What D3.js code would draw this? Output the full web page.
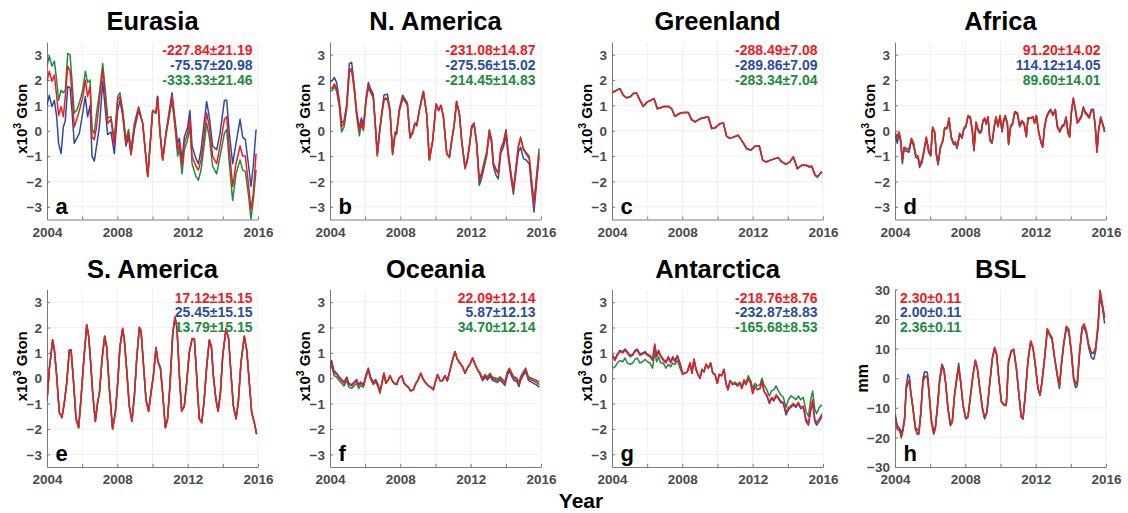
<!DOCTYPE html>
<html>
<head>
<meta charset="utf-8">
<script src="https://cdn.jsdelivr.net/npm/d3@7"></script>
<style>
  body { margin: 0; background: #fff; }
  svg { font-family: "Liberation Sans", Arial, Helvetica, sans-serif; }
</style>
</head>
<body>
<svg id="chart" width="1128" height="513"></svg>
<script>
// ---- data (x10^3 Gton, BSL in mm) ----
var eurasiaYear = [2004.00,2004.13,2004.28,2004.42,2004.55,2004.66,2004.80,2004.93,2005.04,2005.18,
  2005.31,2005.42,2005.55,2005.69,2005.84,2006.03,2006.18,2006.31,2006.45,2006.56,
  2006.69,2006.82,2006.98,2007.17,2007.32,2007.45,2007.64,2007.83,2008.02,2008.15,
  2008.30,2008.49,2008.64,2008.78,2008.97,2009.21,2009.44,2009.73,2010.01,2010.20,
  2010.29,2010.43,2010.58,2010.77,2011.11,2011.30,2011.43,2011.53,2011.68,2011.81,
  2012.00,2012.13,2012.25,2012.47,2012.61,2012.76,2012.95,2013.08,2013.23,2013.42,
  2013.65,2013.84,2014.09,2014.22,2014.37,2014.56,2014.75,2014.98,2015.13,2015.28,
  2015.47,2015.60,2015.73,2015.89];
var eurasiaRed = [1.95,2.35,1.95,2.2,1.35,0.6,0.95,0.55,1.35,2.55,
  2.35,1.5,0.15,0.45,0.8,1.3,2.0,1.35,1.75,-0.25,
  -0.35,0.15,1.2,2.4,1.35,0.3,0.45,-0.6,1.2,1.35,
  0.8,-0.5,-0.1,-0.9,0.15,0.9,0.3,-1.8,0.8,0.7,
  1.35,-0.1,-1.15,-0.1,1.35,0.15,-0.75,-0.5,-1.4,-0.5,
  -0.1,0.45,-1.0,-1.4,-1.55,-1.15,-0.1,0.7,0.15,-1.0,
  -1.3,-0.6,0.45,0.55,-0.75,-2.2,-1.3,-0.6,-1.0,-1.0,
  -2.2,-3.1,-2.5,-0.9];
var eurasiaBlue = [1.0,1.4,0.95,1.2,0.55,-0.5,-0.9,0.15,0.4,1.75,
  1.7,0.8,-0.5,-0.3,-0.1,0.7,1.35,0.55,1.0,-1.0,
  -1.2,-0.6,0.15,1.95,0.8,-0.15,-0.05,-0.9,0.8,1.2,
  0.6,-0.6,-0.25,-0.95,0.05,0.8,0.3,-1.8,0.8,0.7,
  1.35,-0.1,-1.15,-0.05,1.5,0.3,-0.5,-0.3,-1.15,-0.25,
  0.15,0.8,-0.6,-1.1,-1.3,-0.75,0.4,1.15,0.55,-0.6,
  -0.75,-0.1,1.2,1.2,-0.1,-1.3,-0.5,0.45,-0.25,-0.35,
  -1.4,-2.2,-1.4,0.05];
var eurasiaGreen = [2.55,2.95,2.55,2.75,2.0,1.2,1.6,1.5,1.6,3.05,
  3.0,2.0,0.7,0.8,1.1,1.6,2.35,1.9,2.0,0.05,
  -0.1,0.7,1.5,2.65,1.55,0.5,0.55,-0.35,1.35,1.5,
  0.8,-0.35,0.05,-0.75,0.3,0.95,0.3,-1.8,0.8,0.7,
  1.35,-0.1,-1.15,-0.15,1.2,0.0,-1.0,-0.7,-1.7,-0.75,
  -0.35,0.15,-1.3,-1.8,-1.95,-1.55,-0.5,0.3,-0.25,-1.4,
  -1.7,-1.0,-0.1,0.05,-1.3,-2.75,-1.7,-1.15,-1.55,-1.6,
  -2.6,-3.5,-2.75,-1.55];

var namericaYear = [2004.00,2004.15,2004.25,2004.38,2004.53,2004.66,2004.80,2004.95,2005.10,2005.23,
  2005.37,2005.52,2005.67,2005.78,2005.90,2006.05,2006.18,2006.31,2006.46,2006.56,
  2006.69,2006.81,2006.94,2007.07,2007.26,2007.41,2007.56,2007.70,2007.79,2007.94,
  2008.13,2008.27,2008.40,2008.55,2008.70,2008.83,2008.93,2009.08,2009.31,2009.50,
  2009.65,2009.84,2010.03,2010.18,2010.31,2010.45,2010.64,2010.79,2010.92,2011.05,
  2011.20,2011.36,2011.49,2011.68,2011.81,2011.92,2012.06,2012.19,2012.34,2012.49,
  2012.63,2012.76,2012.91,2013.06,2013.19,2013.29,2013.44,2013.57,2013.71,2013.86,
  2014.01,2014.14,2014.29,2014.43,2014.58,2014.71,2014.84,2015.00,2015.15,2015.33,
  2015.60,2015.89];
var namericaRed = [1.65,1.7,1.85,1.65,1.05,0.15,0.3,0.95,2.4,2.45,
  1.7,0.65,0.0,0.35,0.1,1.2,1.8,1.55,1.35,0.4,
  -0.95,-0.1,0.65,1.25,1.3,0.8,-0.9,-0.1,-0.1,0.8,
  1.3,1.2,1.05,-0.25,-0.1,0.3,0.2,0.8,1.55,0.65,
  -1.15,-0.4,1.05,0.8,1.0,0.55,-0.9,-1.05,-0.4,0.15,
  1.15,0.65,-0.4,-1.45,-1.15,-0.65,0.15,0.3,-0.5,-1.95,
  -1.7,-1.3,-0.9,0.0,-0.4,-1.3,-1.55,-1.7,-0.75,-0.5,
  0.0,-0.9,-1.7,-2.35,-1.45,-0.65,-0.3,-0.75,-0.9,-1.1,
  -2.95,-0.85];
var namericaBlue = [1.9,2.0,2.1,1.9,1.2,0.3,0.4,1.05,2.65,2.7,
  1.85,0.75,0.1,0.5,0.2,1.3,1.9,1.65,1.45,0.45,
  -0.9,-0.05,0.7,1.4,1.45,0.85,-0.85,-0.05,-0.05,0.85,
  1.4,1.25,1.1,-0.2,-0.05,0.3,0.2,0.8,1.55,0.65,
  -1.15,-0.4,1.05,0.8,1.0,0.55,-0.9,-1.05,-0.4,0.15,
  1.15,0.65,-0.4,-1.5,-1.2,-0.7,0.1,0.25,-0.55,-2.15,
  -1.85,-1.45,-1.0,-0.1,-0.5,-1.4,-1.75,-1.9,-0.9,-0.65,
  -0.2,-1.05,-1.85,-2.5,-1.6,-0.85,-0.65,-1.1,-1.15,-1.3,
  -3.2,-1.0];
var namericaGreen = [1.55,1.6,1.75,1.55,0.95,-0.05,0.15,0.85,2.3,2.4,
  1.65,0.55,-0.2,0.25,0.0,1.15,1.7,1.5,1.3,0.35,
  -1.0,-0.15,0.6,1.2,1.25,0.75,-0.95,-0.15,-0.15,0.75,
  1.25,1.15,1.0,-0.3,-0.1,0.3,0.2,0.8,1.55,0.65,
  -1.15,-0.4,1.05,0.8,1.0,0.55,-0.9,-1.05,-0.4,0.15,
  1.15,0.65,-0.4,-1.4,-1.1,-0.6,0.2,0.3,-0.45,-1.9,
  -1.65,-1.25,-0.85,0.05,-0.35,-1.25,-1.5,-1.65,-0.7,-0.45,
  0.05,-0.85,-1.65,-2.3,-1.4,-0.6,-0.25,-0.7,-0.85,-1.0,
  -2.85,-0.7];

var greenlandYear = [2004.00,2004.27,2004.45,2004.64,2004.83,2005.02,2005.21,2005.40,2005.59,2005.78,
  2006.01,2006.20,2006.39,2006.58,2006.73,2006.96,2007.20,2007.39,2007.58,2007.83,
  2008.09,2008.34,2008.53,2008.72,2009.00,2009.29,2009.48,2009.67,2009.86,2010.14,
  2010.33,2010.52,2010.71,2010.94,2011.18,2011.43,2011.66,2011.89,2012.13,2012.38,
  2012.57,2012.76,2013.02,2013.27,2013.46,2013.65,2013.90,2014.12,2014.31,2014.54,
  2014.79,2015.03,2015.22,2015.36,2015.55,2015.68,2015.83,2015.94];
var greenlandRed = [1.5,1.6,1.66,1.4,1.3,1.33,1.47,1.49,1.2,0.96,
  1.14,1.2,1.27,0.87,0.9,0.96,0.96,0.87,0.57,0.68,
  0.72,0.72,0.44,0.35,0.47,0.52,0.54,0.09,0.11,0.28,
  0.31,-0.22,-0.3,-0.24,-0.18,-0.44,-0.7,-0.77,-0.61,-0.6,
  -1.16,-1.23,-1.16,-1.1,-1.06,-1.23,-1.32,-1.23,-1.03,-1.49,
  -1.36,-1.36,-1.42,-1.4,-1.75,-1.82,-1.69,-1.62];
var greenlandBlue = [1.5,1.6,1.66,1.4,1.3,1.33,1.47,1.49,1.2,0.96,
  1.14,1.2,1.27,0.87,0.9,0.96,0.96,0.87,0.57,0.68,
  0.72,0.72,0.44,0.35,0.47,0.52,0.54,0.09,0.11,0.28,
  0.31,-0.22,-0.3,-0.24,-0.18,-0.44,-0.7,-0.77,-0.61,-0.6,
  -1.16,-1.23,-1.16,-1.1,-1.06,-1.23,-1.32,-1.23,-1.03,-1.5,
  -1.37,-1.37,-1.43,-1.41,-1.76,-1.83,-1.7,-1.63];
var greenlandGreen = [1.5,1.6,1.66,1.4,1.3,1.33,1.47,1.49,1.2,0.96,
  1.14,1.2,1.27,0.87,0.9,0.96,0.96,0.87,0.57,0.68,
  0.72,0.72,0.44,0.35,0.47,0.52,0.54,0.09,0.11,0.28,
  0.31,-0.22,-0.3,-0.24,-0.18,-0.44,-0.7,-0.77,-0.61,-0.6,
  -1.16,-1.23,-1.16,-1.1,-1.06,-1.23,-1.32,-1.23,-1.03,-1.48,
  -1.35,-1.35,-1.41,-1.39,-1.74,-1.81,-1.68,-1.61];

var africaYear = [2004.02,2004.13,2004.23,2004.32,2004.42,2004.51,2004.64,2004.80,2004.93,2005.06,
  2005.18,2005.31,2005.40,2005.54,2005.65,2005.78,2005.91,2006.03,2006.14,2006.26,
  2006.35,2006.45,2006.58,2006.73,2006.82,2006.98,2007.07,2007.20,2007.34,2007.43,
  2007.53,2007.68,2007.81,2007.92,2008.04,2008.15,2008.28,2008.40,2008.49,2008.61,
  2008.68,2008.80,2008.91,2009.00,2009.10,2009.19,2009.29,2009.40,2009.52,2009.63,
  2009.74,2009.86,2009.97,2010.09,2010.18,2010.27,2010.39,2010.46,2010.58,2010.69,
  2010.81,2010.96,2011.09,2011.22,2011.34,2011.47,2011.56,2011.72,2011.85,2011.94,
  2012.04,2012.17,2012.32,2012.40,2012.51,2012.63,2012.74,2012.85,2012.99,2013.12,
  2013.23,2013.37,2013.50,2013.61,2013.73,2013.84,2013.93,2014.03,2014.14,2014.26,
  2014.37,2014.48,2014.60,2014.71,2014.82,2014.94,2015.05,2015.17,2015.28,2015.39,
  2015.49,2015.58,2015.70,2015.83,2015.92];
var africaRed = [-0.1,-0.25,-0.05,-0.35,-1.15,-0.65,-0.7,-0.75,-0.3,-0.5,
  -0.95,-1.0,-1.35,-1.15,-0.75,-0.25,-0.75,-0.95,0.15,-0.05,
  -0.9,-1.3,-0.65,-0.35,0.1,0.15,0.5,-0.25,-0.5,-0.45,
  -0.65,-0.1,-0.25,0.1,0.2,0.6,0.55,0.0,-0.75,0.35,
  0.15,-0.05,0.0,0.4,0.5,0.3,0.55,-0.35,-0.45,0.1,
  0.55,0.2,0.6,0.0,0.4,0.6,0.3,-0.5,0.2,0.3,
  0.75,0.7,0.2,0.4,0.3,-0.2,0.5,0.5,0.55,0.3,
  0.6,-0.05,-0.5,-0.65,0.15,0.55,0.7,0.8,0.6,0.8,
  0.15,-0.05,0.15,0.2,0.5,-0.1,-0.25,0.7,1.25,0.8,
  0.3,0.4,0.55,0.9,0.7,0.6,0.5,0.8,0.8,0.15,
  -0.85,0.0,0.5,0.2,-0.05];
var africaBlue = [-0.15,-0.5,-0.1,-0.45,-1.3,-0.75,-0.8,-0.85,-0.4,-0.6,
  -1.05,-1.1,-1.45,-1.25,-0.85,-0.3,-0.85,-1.0,0.1,-0.1,
  -0.95,-1.35,-0.7,-0.4,0.05,0.1,0.45,-0.3,-0.55,-0.5,
  -0.7,-0.15,-0.3,0.05,0.15,0.55,0.5,-0.05,-0.8,0.3,
  0.1,-0.1,-0.05,0.35,0.45,0.25,0.5,-0.4,-0.5,0.05,
  0.5,0.15,0.55,-0.05,0.35,0.55,0.25,-0.55,0.15,0.25,
  0.7,0.65,0.15,0.35,0.25,-0.25,0.45,0.5,0.55,0.3,
  0.6,-0.05,-0.5,-0.6,0.2,0.6,0.75,0.85,0.65,0.85,
  0.2,0.0,0.2,0.25,0.55,-0.05,-0.2,0.75,1.3,0.85,
  0.35,0.45,0.6,0.95,0.75,0.65,0.55,0.85,0.85,0.2,
  -0.8,0.05,0.55,0.25,0.05];
var africaGreen = [-0.1,-0.27,-0.06,-0.36,-1.16,-0.66,-0.71,-0.76,-0.31,-0.51,
  -0.96,-1.01,-1.36,-1.16,-0.76,-0.26,-0.76,-0.96,0.14,-0.06,
  -0.9,-1.3,-0.65,-0.35,0.1,0.15,0.5,-0.25,-0.5,-0.45,
  -0.65,-0.1,-0.25,0.1,0.2,0.6,0.55,0.0,-0.75,0.35,
  0.15,-0.05,0.0,0.4,0.5,0.3,0.55,-0.35,-0.45,0.1,
  0.55,0.2,0.6,0.0,0.4,0.6,0.3,-0.5,0.2,0.3,
  0.75,0.7,0.2,0.4,0.3,-0.2,0.5,0.5,0.55,0.3,
  0.6,-0.05,-0.5,-0.65,0.15,0.55,0.7,0.8,0.6,0.8,
  0.15,-0.05,0.15,0.2,0.5,-0.1,-0.25,0.7,1.25,0.8,
  0.3,0.4,0.55,0.9,0.7,0.6,0.5,0.8,0.8,0.15,
  -0.85,0.0,0.5,0.2,-0.05];

var samericaYear = [2004.00,2004.13,2004.32,2004.42,2004.55,2004.70,2004.85,2004.99,2005.12,2005.27,
  2005.37,2005.50,2005.65,2005.80,2005.93,2006.09,2006.26,2006.37,2006.46,2006.60,
  2006.75,2006.88,2006.98,2007.13,2007.28,2007.39,2007.55,2007.73,2007.89,2008.02,
  2008.15,2008.30,2008.40,2008.53,2008.68,2008.83,2008.97,2009.10,2009.25,2009.35,
  2009.48,2009.63,2009.78,2009.91,2010.05,2010.20,2010.31,2010.45,2010.58,2010.73,
  2010.86,2011.00,2011.15,2011.28,2011.39,2011.53,2011.66,2011.81,2011.94,2012.09,
  2012.25,2012.38,2012.51,2012.66,2012.80,2012.93,2013.08,2013.23,2013.35,2013.46,
  2013.61,2013.73,2013.86,2013.99,2014.18,2014.33,2014.46,2014.60,2014.75,2014.88,
  2015.03,2015.22,2015.36,2015.51,2015.64,2015.79,2015.92];
var samericaRed = [-0.9,0.35,1.5,1.1,0.1,-1.35,-1.55,-0.95,-0.2,1.1,
  1.1,-0.05,-1.6,-1.95,-0.85,0.7,2.1,1.65,0.85,-0.6,
  -1.7,-0.95,-0.6,0.75,1.65,1.25,-0.45,-2.0,-1.35,-0.2,
  1.25,1.95,1.5,0.35,-1.1,-1.7,-0.7,0.75,2.0,1.85,
  0.6,-0.85,-1.3,-0.6,0.1,1.2,0.65,0.4,-0.6,-1.95,
  -1.6,-0.2,1.75,2.4,2.0,0.1,-1.3,-1.1,-0.2,1.0,
  1.55,1.55,0.1,-1.6,-1.75,-0.95,0.45,1.5,1.25,0.1,
  -0.85,-1.3,-0.6,0.85,1.95,1.55,0.2,-1.1,-1.6,-0.95,
  0.6,1.65,1.1,-0.2,-1.35,-1.75,-2.2];
var samericaBlue = [-0.88,0.37,1.52,1.12,0.12,-1.33,-1.53,-0.93,-0.18,1.12,
  1.12,-0.03,-1.58,-1.93,-0.83,0.72,2.12,1.67,0.87,-0.58,
  -1.68,-0.93,-0.58,0.77,1.67,1.27,-0.43,-1.98,-1.33,-0.18,
  1.27,1.97,1.52,0.37,-1.08,-1.68,-0.68,0.77,2.02,1.87,
  0.62,-0.83,-1.28,-0.58,0.12,1.22,0.67,0.42,-0.58,-1.93,
  -1.58,-0.18,1.77,2.42,2.02,0.12,-1.28,-1.08,-0.18,1.02,
  1.57,1.57,0.12,-1.58,-1.73,-0.93,0.47,1.52,1.27,0.12,
  -0.83,-1.28,-0.58,0.87,1.97,1.57,0.22,-1.08,-1.58,-0.93,
  0.62,1.67,1.12,-0.18,-1.33,-1.73,-2.18];
var samericaGreen = [-0.91,0.34,1.49,1.09,0.09,-1.36,-1.56,-0.96,-0.21,1.09,
  1.09,-0.06,-1.61,-1.96,-0.86,0.69,2.09,1.64,0.84,-0.61,
  -1.71,-0.96,-0.61,0.74,1.64,1.24,-0.46,-2.01,-1.36,-0.21,
  1.24,1.94,1.49,0.34,-1.11,-1.71,-0.71,0.74,1.99,1.84,
  0.59,-0.86,-1.31,-0.61,0.09,1.19,0.64,0.39,-0.61,-1.96,
  -1.61,-0.21,1.74,2.39,1.99,0.09,-1.31,-1.11,-0.21,0.99,
  1.54,1.54,0.09,-1.61,-1.76,-0.96,0.44,1.49,1.24,0.09,
  -0.86,-1.31,-0.61,0.84,1.94,1.54,0.19,-1.11,-1.61,-0.96,
  0.59,1.64,1.09,-0.21,-1.36,-1.76,-2.21];

var oceaniaYear = [2004.00,2004.09,2004.23,2004.38,2004.53,2004.66,2004.80,2004.95,2005.08,2005.23,
  2005.37,2005.52,2005.63,2005.74,2005.90,2006.05,2006.18,2006.31,2006.46,2006.60,
  2006.71,2006.84,2006.94,2007.07,2007.18,2007.32,2007.41,2007.51,2007.64,2007.79,
  2007.92,2008.08,2008.21,2008.36,2008.45,2008.59,2008.74,2008.89,2009.02,2009.16,
  2009.31,2009.46,2009.59,2009.73,2009.88,2010.01,2010.12,2010.26,2010.39,2010.54,
  2010.67,2010.82,2010.98,2011.11,2011.24,2011.39,2011.54,2011.68,2011.81,2011.96,
  2012.11,2012.25,2012.38,2012.53,2012.68,2012.82,2012.95,2013.10,2013.23,2013.38,
  2013.52,2013.67,2013.80,2013.95,2014.09,2014.20,2014.33,2014.46,2014.62,2014.75,
  2014.84,2015.00,2015.13,2015.28,2015.41,2015.56,2015.72,2015.91];
var oceaniaRed = [0.45,0.6,0.2,0.15,0.0,-0.1,-0.2,0.0,-0.25,-0.3,
  -0.2,-0.1,-0.3,-0.2,-0.3,0.1,0.35,0.0,-0.2,-0.1,
  -0.25,-0.55,-0.25,0.2,-0.2,-0.05,0.1,-0.05,-0.2,-0.25,
  0.0,0.1,-0.2,-0.3,-0.35,-0.5,-0.45,-0.2,-0.05,0.2,
  -0.05,-0.2,-0.3,-0.35,-0.45,-0.1,0.15,-0.1,-0.1,0.1,
  -0.1,0.3,0.75,1.05,0.75,0.6,0.45,0.2,0.4,0.55,
  0.8,0.55,0.35,0.2,-0.05,0.1,0.0,0.15,0.0,-0.05,
  -0.1,0.0,-0.1,-0.2,0.2,0.35,0.15,0.0,-0.05,-0.25,
  0.0,0.2,0.35,0.0,-0.05,-0.1,-0.15,-0.25];
var oceaniaBlue = [0.55,0.7,0.3,0.2,0.05,-0.05,-0.15,0.05,-0.2,-0.25,
  -0.15,-0.05,-0.25,-0.15,-0.25,0.15,0.4,0.05,-0.15,-0.05,
  -0.2,-0.5,-0.2,0.2,-0.2,-0.05,0.1,-0.05,-0.2,-0.25,
  0.0,0.1,-0.2,-0.3,-0.35,-0.5,-0.45,-0.2,-0.05,0.2,
  -0.05,-0.2,-0.3,-0.35,-0.45,-0.1,0.15,-0.1,-0.1,0.1,
  -0.1,0.3,0.75,1.05,0.75,0.6,0.45,0.2,0.4,0.55,
  0.8,0.55,0.35,0.15,-0.1,0.05,-0.07,0.08,-0.07,-0.12,
  -0.17,-0.07,-0.17,-0.28,0.13,0.28,0.08,-0.08,-0.13,-0.33,
  -0.08,0.12,0.27,-0.08,-0.13,-0.19,-0.25,-0.35];
var oceaniaGreen = [0.35,0.5,0.1,0.05,-0.1,-0.2,-0.3,-0.1,-0.35,-0.4,
  -0.3,-0.2,-0.4,-0.3,-0.35,0.05,0.3,-0.05,-0.25,-0.15,
  -0.3,-0.6,-0.25,0.2,-0.2,-0.05,0.1,-0.05,-0.2,-0.25,
  0.0,0.1,-0.2,-0.3,-0.35,-0.5,-0.45,-0.2,-0.05,0.2,
  -0.05,-0.2,-0.3,-0.35,-0.45,-0.1,0.15,-0.1,-0.1,0.1,
  -0.1,0.3,0.75,1.05,0.75,0.6,0.45,0.2,0.4,0.55,
  0.8,0.55,0.35,0.22,0.0,0.15,0.05,0.2,0.05,0.02,
  -0.03,0.06,-0.03,-0.13,0.26,0.4,0.21,0.06,0.02,-0.18,
  0.06,0.26,0.4,0.06,0.02,-0.03,-0.07,-0.15];

var antarcticaYear = [2004.04,2004.17,2004.30,2004.45,2004.61,2004.74,2004.87,2005.02,2005.18,2005.31,
  2005.44,2005.59,2005.74,2005.88,2006.01,2006.16,2006.31,2006.43,2006.54,2006.65,
  2006.77,2006.92,2007.07,2007.20,2007.34,2007.45,2007.58,2007.72,2007.87,2008.02,
  2008.15,2008.28,2008.44,2008.55,2008.66,2008.78,2008.89,2009.00,2009.12,2009.23,
  2009.35,2009.48,2009.61,2009.73,2009.86,2009.99,2010.10,2010.24,2010.37,2010.48,
  2010.60,2010.71,2010.86,2011.00,2011.13,2011.28,2011.39,2011.51,2011.62,2011.75,
  2011.89,2012.00,2012.13,2012.27,2012.42,2012.53,2012.64,2012.80,2012.95,2013.08,
  2013.21,2013.33,2013.46,2013.59,2013.74,2013.90,2014.03,2014.16,2014.31,2014.46,
  2014.60,2014.73,2014.88,2015.03,2015.17,2015.30,2015.41,2015.53,2015.64,2015.79,
  2015.94];
var antarcticaRed = [0.85,0.7,0.9,1.05,1.0,1.1,1.0,0.85,0.9,1.05,
  1.1,0.9,0.95,1.0,0.9,0.85,0.7,1.3,0.85,1.05,
  0.85,0.7,0.6,0.8,0.6,0.8,0.65,0.85,0.55,0.15,
  0.2,0.25,0.6,0.2,0.75,0.35,0.15,0.0,0.35,0.25,
  0.55,0.4,0.6,0.2,0.15,-0.2,0.15,0.1,0.35,-0.2,
  -0.45,-0.1,-0.25,-0.2,-0.3,-0.2,-0.4,-0.1,-0.25,0.0,
  -0.2,-0.6,-0.3,-0.45,-0.4,-0.1,-0.5,-0.65,-0.95,-0.75,
  -0.85,-0.65,-0.75,-0.9,-0.95,-1.35,-1.15,-1.1,-1.0,-1.1,
  -0.95,-1.15,-1.1,-1.6,-1.8,-1.2,-0.85,-1.6,-1.75,-1.6,
  -1.4];
var antarcticaBlue = [0.9,0.75,0.95,1.1,1.05,1.15,1.05,0.9,0.95,1.1,
  1.15,0.95,1.0,1.05,0.95,0.9,0.75,1.35,0.9,1.1,
  0.9,0.75,0.65,0.85,0.65,0.85,0.7,0.9,0.6,0.2,
  0.2,0.25,0.6,0.2,0.75,0.35,0.15,0.0,0.35,0.25,
  0.55,0.4,0.6,0.2,0.15,-0.2,0.15,0.1,0.35,-0.2,
  -0.45,-0.1,-0.25,-0.2,-0.3,-0.2,-0.4,-0.1,-0.25,0.0,
  -0.2,-0.6,-0.3,-0.45,-0.4,-0.1,-0.5,-0.7,-1.0,-0.8,
  -0.9,-0.7,-0.8,-0.95,-1.0,-1.45,-1.25,-1.15,-1.05,-1.15,
  -1.0,-1.2,-1.15,-1.7,-1.85,-1.3,-0.95,-1.7,-1.85,-1.7,
  -1.5];
var antarcticaGreen = [0.4,0.45,0.6,0.7,0.65,0.8,0.6,0.55,0.6,0.75,
  0.8,0.6,0.65,0.75,0.65,0.6,0.4,1.05,0.65,0.85,
  0.6,0.6,0.4,0.55,0.45,0.6,0.55,0.7,0.4,0.15,
  0.2,0.25,0.6,0.2,0.75,0.35,0.15,0.0,0.35,0.25,
  0.55,0.4,0.6,0.2,0.15,-0.2,0.15,0.1,0.35,-0.2,
  -0.45,-0.1,-0.2,-0.15,-0.25,-0.15,-0.35,-0.05,-0.2,0.1,
  -0.1,-0.4,-0.2,-0.3,-0.25,0.0,-0.25,-0.45,-0.7,-0.5,
  -0.45,-0.3,-0.5,-0.65,-0.75,-1.15,-0.85,-0.7,-0.75,-0.85,
  -0.7,-0.85,-0.75,-1.3,-1.5,-0.85,-0.5,-1.2,-1.4,-1.15,
  -1.05];

var bslYear = [2004.02,2004.13,2004.27,2004.36,2004.45,2004.55,2004.64,2004.74,2004.82,2004.89,
  2005.02,2005.16,2005.27,2005.36,2005.46,2005.59,2005.69,2005.84,2005.91,2006.07,
  2006.20,2006.29,2006.41,2006.54,2006.67,2006.79,2006.88,2007.01,2007.15,2007.26,
  2007.39,2007.55,2007.62,2007.73,2007.87,2008.02,2008.15,2008.30,2008.44,2008.57,
  2008.68,2008.82,2008.97,2009.10,2009.23,2009.38,2009.54,2009.67,2009.78,2009.90,
  2010.05,2010.20,2010.33,2010.46,2010.62,2010.75,2010.90,2011.03,2011.18,2011.28,
  2011.41,2011.56,2011.72,2011.85,2011.98,2012.13,2012.25,2012.36,2012.51,2012.66,
  2012.80,2012.93,2013.08,2013.23,2013.35,2013.46,2013.59,2013.74,2013.88,2014.03,
  2014.16,2014.27,2014.37,2014.50,2014.64,2014.75,2014.88,2015.01,2015.17,2015.30,
  2015.41,2015.55,2015.66,2015.79,2015.92];
var bslRed = [-13.5,-17,-17.5,-19.8,-17.5,-13.5,-3.2,-1.5,-0.4,-4.4,
  -10,-17,-18.6,-18.6,-12.4,-1.0,0.7,0.7,-3.2,-14.6,
  -18.6,-17,-10,-1.0,4.2,2.4,-1.5,-10,-15.8,-14.6,
  -5.5,1.3,3.6,-1.0,-8.9,-13.5,-12.9,-5.5,1.3,5.9,
  3.6,-3.2,-10,-13.5,-11.2,-2.1,7.0,10.4,8.1,0.2,
  -7.8,-8.9,-8.9,5.9,9.3,9.8,3.6,-4.4,-12.9,-13.5,
  -5.5,5.9,12.7,10.4,4.7,-3.2,-5.5,-1.0,7.0,16.8,
  15.0,13.8,7.0,1.3,-2.7,4.7,11.6,17.6,16.7,9.3,
  0.2,-1.8,-1.0,9.3,17.3,18.4,16.1,11.6,8.7,8.7,
  10.4,18.4,29.8,25.2,20.7];
var bslBlue = [-12.3,-16,-17,-18.5,-17,-13,-2.5,1.3,0.5,-4,
  -10,-16.5,-17.5,-17.5,-12,0,2.2,2.0,-2.5,-14,
  -18,-16.5,-9.5,0,4.8,3,-1.5,-10,-15.5,-14.5,
  -5,2,5,-0.5,-9,-13.5,-13,-5.5,1.3,6.2,
  3.6,-3.2,-10,-13.5,-11.2,-2.1,7.0,10.4,8.1,0.2,
  -7.8,-8.9,-8.9,5.9,9.3,9.8,3.6,-4.4,-13.2,-13.8,
  -5.5,5.9,12.5,10.2,4.5,-3.5,-5.8,-1.2,6.8,16.0,
  14.5,13.0,6.5,0.8,-3.5,4.2,11.0,16.5,15.8,8.5,
  -0.5,-3.2,-2.5,8.5,16.5,17.3,15.0,10.5,7.0,6.4,
  9.0,17.0,27.5,24.0,18.5];
var bslGreen = [-13.8,-17.3,-17.8,-20.2,-17.8,-13.8,-3.5,-1.8,-0.7,-4.7,
  -10.3,-17.3,-19,-19,-12.7,-1.3,0.4,0.4,-3.5,-14.9,
  -19,-17.3,-10.3,-1.3,3.9,2.1,-1.8,-10.3,-16.1,-14.9,
  -5.8,1.0,3.3,-1.3,-9.2,-13.8,-13.2,-5.8,1.0,5.6,
  3.3,-3.5,-10.3,-13.8,-11.5,-2.4,6.7,10.1,7.8,-0.1,
  -8.1,-9.2,-9.2,5.6,9.0,9.5,3.3,-4.7,-13.2,-13.8,
  -5.8,5.6,12.4,10.1,4.4,-3.5,-5.8,-1.3,6.7,16.5,
  14.7,13.5,6.7,1.0,-3.0,4.4,11.3,17.3,16.4,9.0,
  -0.1,-2.1,-1.3,9.0,17.0,18.1,15.8,11.3,8.4,8.4,
  10.1,18.1,29.5,24.9,20.4];

var panelNames = ["Eurasia", "N. America", "Greenland", "Africa",
                  "S. America", "Oceania", "Antarctica", "BSL"];
var panelLetters = ["a", "b", "c", "d", "e", "f", "g", "h"];
var trendRed   = ["-227.84±21.19", "-231.08±14.87", "-288.49±7.08", "91.20±14.02",
                  "17.12±15.15", "22.09±12.14", "-218.76±8.76", "2.30±0.11"];
var trendBlue  = ["-75.57±20.98", "-275.56±15.02", "-289.86±7.09", "114.12±14.05",
                  "25.45±15.15", "5.87±12.13", "-232.87±8.83", "2.00±0.11"];
var trendGreen = ["-333.33±21.46", "-214.45±14.83", "-283.34±7.04", "89.60±14.01",
                  "13.79±15.15", "34.70±12.14", "-165.68±8.53", "2.36±0.11"];
var xTickLabels = [2004, 2008, 2012, 2016];
var xGridYears = [2006, 2008, 2010, 2012, 2014, 2016];
var gtonTicks = [-3, -2, -1, 0, 1, 2, 3];
var mmTicks = [-30, -20, -10, 0, 10, 20, 30];

var seriesYears  = [eurasiaYear, namericaYear, greenlandYear, africaYear, samericaYear, oceaniaYear, antarcticaYear, bslYear];
var seriesRed    = [eurasiaRed, namericaRed, greenlandRed, africaRed, samericaRed, oceaniaRed, antarcticaRed, bslRed];
var seriesBlue   = [eurasiaBlue, namericaBlue, greenlandBlue, africaBlue, samericaBlue, oceaniaBlue, antarcticaBlue, bslBlue];
var seriesGreen  = [eurasiaGreen, namericaGreen, greenlandGreen, africaGreen, samericaGreen, oceaniaGreen, antarcticaGreen, bslGreen];

// ---- layout ----
var colLeft = [47, 330, 612, 895];
var rowTop = [42, 289.5];
var plotW = 211, plotH = 177.5;
var RED = "#ec1c24", BLUE = "#2b4c9e", GREEN = "#1f8a40";
var axisColor = "#7a7a7a", tickText = "#4a4a4a";

var svg = d3.select("#chart");
var defs = svg.append("defs");

panelNames.forEach(function(name, i) {
  var left = colLeft[i % 4], top = rowTop[Math.floor(i / 4)];
  var isBsl = name === "BSL";
  var yTicks = isBsl ? mmTicks : gtonTicks;

  var x = d3.scaleLinear().domain([2004, 2016]).range([0, plotW]);
  var y = isBsl ? d3.scaleLinear().domain([-30, 30]).range([plotH, 0])
                : d3.scaleLinear().domain([-3.5, 3.5]).range([plotH, 0]);

  var g = svg.append("g").attr("transform", "translate(" + left + "," + top + ")");

  defs.append("clipPath").attr("id", "clip" + i)
    .append("rect").attr("width", plotW).attr("height", plotH);

  // grid
  g.selectAll(".gx").data(xGridYears).enter().append("line")
    .attr("x1", function(d) { return x(d); }).attr("x2", function(d) { return x(d); })
    .attr("y1", 0).attr("y2", plotH)
    .attr("stroke", "#ebebeb").attr("stroke-width", 0.8);
  g.selectAll(".gy").data(yTicks.filter(function(d) { return y(d) > 0.5 && y(d) < plotH - 0.5; }))
    .enter().append("line")
    .attr("x1", 0).attr("x2", plotW)
    .attr("y1", function(d) { return y(d); }).attr("y2", function(d) { return y(d); })
    .attr("stroke", "#ebebeb").attr("stroke-width", 0.8);

  // axes (MATLAB style: inward ticks, box off)
  var xAxis = d3.axisBottom(x).tickValues([2004, 2006, 2008, 2010, 2012, 2014, 2016])
    .tickSizeInner(-3).tickSizeOuter(0)
    .tickFormat(function(d) { return xTickLabels.indexOf(d) >= 0 ? d : ""; });
  var gx = g.append("g").attr("transform", "translate(0," + plotH + ")").call(xAxis);
  var yAxis = d3.axisLeft(y).tickValues(yTicks).tickSizeInner(-3).tickSizeOuter(0)
    .tickFormat(d3.format("d"));
  var gy = g.append("g").call(yAxis);
  [gx, gy].forEach(function(ax) {
    ax.select(".domain").attr("stroke", axisColor).attr("stroke-width", 1);
    ax.selectAll(".tick line").attr("stroke", axisColor);
    ax.selectAll(".tick text")
      .attr("fill", tickText).attr("font-size", 13.5).attr("font-weight", "bold")
      .attr("font-family", "Liberation Sans, Arial, sans-serif");
  });
  gx.selectAll(".tick text").attr("dy", null).attr("y", 17).attr("dominant-baseline", "auto");
  gy.selectAll(".tick text").attr("x", -5).attr("dy", "0.35em");

  // series lines
  var years = seriesYears[i];
  var lines = [[seriesBlue[i], BLUE], [seriesGreen[i], GREEN], [seriesRed[i], RED]];
  var lineGen = d3.line()
    .x(function(d) { return x(d[0]); })
    .y(function(d) { return y(d[1]); });
  var plot = g.append("g").attr("clip-path", "url(#clip" + i + ")");
  lines.forEach(function(s) {
    var pts = years.map(function(t, k) { return [t, s[0][k]]; })
      .filter(function(p) { return p[1] !== undefined; });
    plot.append("path").datum(pts)
      .attr("d", lineGen)
      .attr("fill", "none").attr("stroke", s[1])
      .attr("stroke-width", 1.5).attr("stroke-linejoin", "round");
  });

  // title
  g.append("text")
    .attr("x", plotW / 2).attr("y", -12)
    .attr("text-anchor", "middle")
    .attr("font-size", 25.5).attr("font-weight", "bold").attr("fill", "#000")
    .text(name);

  // y label
  if (isBsl) {
    g.append("text")
      .attr("transform", "translate(-27," + (plotH / 2) + ") rotate(-90)")
      .attr("text-anchor", "middle")
      .attr("font-size", 16).attr("font-weight", "bold").attr("fill", "#000")
      .text("mm");
  } else {
    var yl = g.append("text")
      .attr("transform", "translate(-20," + (plotH / 2 - 12) + ") rotate(-90)")
      .attr("text-anchor", "middle")
      .attr("font-size", 15).attr("font-weight", "bold").attr("fill", "#000");
    yl.append("tspan").text("x10");
    yl.append("tspan").attr("dy", -6).attr("font-size", 10.5).text("3");
    yl.append("tspan").attr("dy", 6).text(" Gton");
  }

  // trend annotations
  var trends = [[trendRed[i], RED], [trendBlue[i], BLUE], [trendGreen[i], GREEN]];
  trends.forEach(function(tr, k) {
    g.append("text")
      .attr("x", isBsl ? 5 : plotW - 5.5)
      .attr("y", 13 + k * 14.8)
      .attr("text-anchor", isBsl ? "start" : "end")
      .attr("font-size", 14).attr("font-weight", "bold").attr("fill", tr[1])
      .text(tr[0]);
  });

  // panel letter
  g.append("text")
    .attr("x", 8.5).attr("y", plotH - 6)
    .attr("font-size", 22).attr("font-weight", "bold").attr("fill", "#000")
    .text(panelLetters[i]);
});

svg.append("text")
  .attr("x", 581).attr("y", 508)
  .attr("text-anchor", "middle")
  .attr("font-size", 21).attr("font-weight", "bold").attr("fill", "#000")
  .text("Year");
</script>
</body>
</html>
